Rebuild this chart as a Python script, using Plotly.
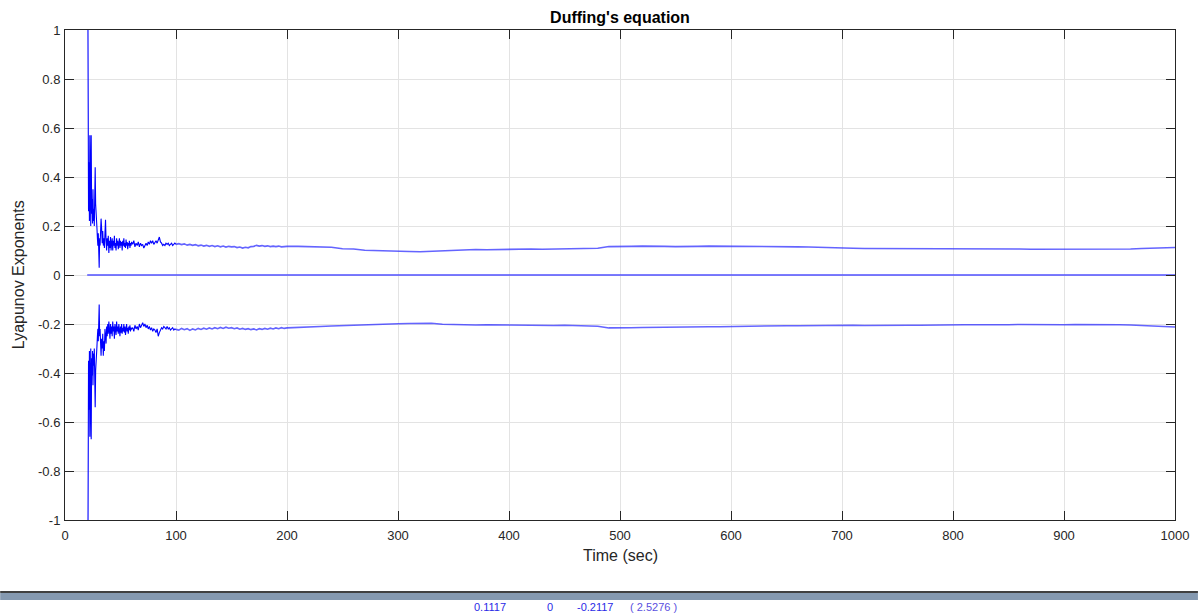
import numpy as np
import plotly.graph_objects as go

# ---- data ----
# time grid segments (sec)
t_a = np.round(np.arange(20.0, 32.001, 0.4), 2)      # 31 pts
t_b = np.round(np.arange(32.5, 60.001, 0.5), 2)      # 56 pts
t_c = np.arange(61, 101, 1.0)                        # 40 pts
t_d = np.round(np.arange(102.5, 200.001, 2.5), 2)    # 40 pts
t_e = np.arange(210, 1001, 10.0)                     # 80 pts

lyap1_a = [2.00, 1.05, 0.38, 0.26, 0.46, 0.22, 0.57, 0.31, 0.20, 0.57,
           0.25, 0.31, 0.21, 0.35, 0.22, 0.27, 0.20, 0.28, 0.44, 0.29,
           0.22, 0.25, 0.19, 0.15, 0.12, 0.17, 0.12, 0.03, 0.15, 0.12,
           0.17]
lyap1_b = [0.23, 0.19, 0.13, 0.18, 0.12, 0.15, 0.11, 0.17, 0.225, 0.14,
           0.10, 0.15, 0.12, 0.16, 0.09, 0.14, 0.11, 0.155, 0.10, 0.13,
           0.15, 0.10, 0.14, 0.12, 0.16, 0.11, 0.13, 0.10, 0.15, 0.12,
           0.14, 0.105, 0.13, 0.15, 0.11, 0.14, 0.12, 0.135, 0.10, 0.14,
           0.12, 0.15, 0.115, 0.13, 0.11, 0.145, 0.12, 0.135, 0.105, 0.13,
           0.12, 0.14, 0.11, 0.13, 0.12, 0.135]
lyap1_c = [0.125, 0.14, 0.115, 0.13, 0.12, 0.135, 0.115, 0.13, 0.12, 0.125,
           0.11, 0.125, 0.13, 0.12, 0.135, 0.125, 0.14, 0.13, 0.14, 0.125,
           0.135, 0.14, 0.13, 0.145, 0.155, 0.135, 0.13, 0.12, 0.125, 0.12,
           0.13, 0.125, 0.13, 0.12, 0.125, 0.13, 0.12, 0.125, 0.13, 0.125]
lyap1_d = [0.128, 0.124, 0.127, 0.122, 0.125, 0.121, 0.124, 0.119, 0.122, 0.118,
           0.121, 0.117, 0.12, 0.116, 0.119, 0.115, 0.118, 0.114, 0.117, 0.115,
           0.116, 0.112, 0.114, 0.110, 0.113, 0.111, 0.116, 0.117, 0.121, 0.118,
           0.12, 0.117, 0.119, 0.116, 0.118, 0.116, 0.118, 0.115, 0.117, 0.117]
lyap1_e = [0.117, 0.115, 0.116, 0.113, 0.107, 0.106, 0.101, 0.099, 0.097, 0.098,
           0.096, 0.095, 0.097, 0.101, 0.103, 0.102, 0.104, 0.103, 0.104, 0.105,
           0.104, 0.106, 0.105, 0.106, 0.107, 0.106, 0.108, 0.109, 0.116, 0.118,
           0.117, 0.118, 0.116, 0.117, 0.116, 0.118, 0.117, 0.118, 0.118, 0.117,
           0.117, 0.116, 0.117, 0.116, 0.115, 0.115, 0.114, 0.112, 0.110, 0.109,
           0.109, 0.108, 0.108, 0.109, 0.108, 0.108, 0.109, 0.108, 0.109, 0.108,
           0.109, 0.108, 0.107, 0.108, 0.107, 0.106, 0.105, 0.105, 0.106, 0.105,
           0.105, 0.104, 0.105, 0.105, 0.106, 0.106, 0.108, 0.109, 0.111, 0.112]

lyap3_a = [-2.10, -1.15, -0.48, -0.35, -0.55, -0.31, -0.66, -0.40, -0.30, -0.67,
           -0.34, -0.41, -0.31, -0.45, -0.32, -0.37, -0.30, -0.38, -0.54, -0.39,
           -0.32, -0.35, -0.29, -0.25, -0.22, -0.27, -0.22, -0.12, -0.25, -0.22,
           -0.27]
lyap3_b = [-0.33, -0.26, -0.30, -0.24, -0.33, -0.27, -0.31, -0.22, -0.25, -0.28,
           -0.21, -0.25, -0.20, -0.24, -0.19, -0.23, -0.26, -0.20, -0.24, -0.21,
           -0.25, -0.19, -0.23, -0.21, -0.26, -0.20, -0.22, -0.245, -0.19, -0.23,
           -0.21, -0.24, -0.20, -0.225, -0.25, -0.21, -0.235, -0.20, -0.24, -0.215,
           -0.23, -0.20, -0.235, -0.21, -0.245, -0.22, -0.20, -0.23, -0.215, -0.24,
           -0.21, -0.225, -0.205, -0.23, -0.215, -0.22]
lyap3_c = [-0.215, -0.23, -0.205, -0.22, -0.21, -0.225, -0.20, -0.215, -0.205, -0.195,
           -0.21, -0.20, -0.215, -0.205, -0.22, -0.21, -0.225, -0.215, -0.23, -0.22,
           -0.225, -0.235, -0.22, -0.25, -0.235, -0.225, -0.215, -0.22, -0.21, -0.215,
           -0.22, -0.21, -0.22, -0.215, -0.225, -0.22, -0.215, -0.225, -0.22, -0.222]
lyap3_d = [-0.225, -0.218, -0.223, -0.219, -0.226, -0.22, -0.224, -0.218, -0.222, -0.217,
           -0.221, -0.216, -0.22, -0.215, -0.219, -0.214, -0.218, -0.213, -0.217, -0.215,
           -0.219, -0.216, -0.221, -0.218, -0.222, -0.219, -0.223, -0.22, -0.224, -0.219,
           -0.222, -0.218, -0.221, -0.217, -0.22, -0.216, -0.219, -0.215, -0.218, -0.216]
lyap3_e = [-0.213, -0.211, -0.210, -0.208, -0.206, -0.205, -0.204, -0.202, -0.200, -0.199,
           -0.198, -0.196, -0.197, -0.201, -0.203, -0.203, -0.204, -0.203, -0.204, -0.204,
           -0.205, -0.204, -0.205, -0.206, -0.205, -0.206, -0.207, -0.209, -0.216, -0.217,
           -0.215, -0.214, -0.213, -0.213, -0.212, -0.213, -0.212, -0.211, -0.211, -0.210,
           -0.209, -0.209, -0.208, -0.208, -0.207, -0.207, -0.206, -0.206, -0.205, -0.205,
           -0.205, -0.206, -0.205, -0.205, -0.204, -0.205, -0.205, -0.204, -0.204, -0.204,
           -0.203, -0.203, -0.204, -0.203, -0.203, -0.202, -0.203, -0.202, -0.202, -0.203,
           -0.202, -0.203, -0.202, -0.202, -0.203, -0.204, -0.206, -0.208, -0.210, -0.212]

zero_t = [20, 1000]
zero_vals = [0, 0]

x_ticks = [0, 100, 200, 300, 400, 500, 600, 700, 800, 900, 1000]
y_ticks = [-1, -0.8, -0.6, -0.4, -0.2, 0, 0.2, 0.4, 0.6, 0.8, 1]
y_ticktext = ["-1", "-0.8", "-0.6", "-0.4", "-0.2", "0", "0.2", "0.4", "0.6", "0.8", "1"]

final_values = ["0.1117", "0", "-0.2117", "( 2.5276 )"]

# ---- assemble ----
t_early = np.concatenate([t_a, t_b, t_c])
t_late = np.concatenate([[100.0], t_d, t_e])
l1_early = lyap1_a + lyap1_b + lyap1_c
l3_early = lyap3_a + lyap3_b + lyap3_c
l1_late = [lyap1_c[-1]] + lyap1_d + lyap1_e
l3_late = [lyap3_c[-1]] + lyap3_d + lyap3_e

fig = go.Figure()
strong = dict(color="rgb(0,0,255)", width=1.1)
soft = dict(color="rgba(40,40,255,0.72)", width=1.6)

fig.add_trace(go.Scatter(x=t_early, y=l1_early, mode="lines", line=strong, hoverinfo="skip"))
fig.add_trace(go.Scatter(x=t_late, y=l1_late, mode="lines", line=soft, hoverinfo="skip"))
fig.add_trace(go.Scatter(x=zero_t, y=zero_vals, mode="lines",
                         line=dict(color="rgb(80,80,255)", width=1.5), hoverinfo="skip"))
fig.add_trace(go.Scatter(x=t_early, y=l3_early, mode="lines", line=strong, hoverinfo="skip"))
fig.add_trace(go.Scatter(x=t_late, y=l3_late, mode="lines", line=soft, hoverinfo="skip"))

FONT = "Liberation Sans, Arial, sans-serif"
axis_common = dict(
    showline=True, linecolor="#262626", linewidth=1, mirror="ticks",
    ticks="inside", ticklen=9, tickcolor="#262626", tickwidth=1,
    showgrid=True, gridcolor="#e3e3e3", gridwidth=1, zeroline=False,
    tickfont=dict(family=FONT, size=13, color="#262626"),
)

fig.update_layout(
    width=1201, height=615,
    margin=dict(l=65, r=23, t=30, b=95),
    paper_bgcolor="white", plot_bgcolor="white",
    showlegend=False,
    title=dict(text="<b>Duffing's equation</b>", x=0.5, xref="paper", xanchor="center",
               y=1 - 17 / 615, yref="container", yanchor="middle",
               font=dict(family=FONT, size=16, color="black")),
    xaxis=dict(range=[0, 1000], tickvals=x_ticks, ticktext=[str(v) for v in x_ticks],
               ticklabelstandoff=3, **axis_common),
    yaxis=dict(range=[-1, 1], tickvals=y_ticks, ticktext=y_ticktext,
               ticklabelstandoff=1, **axis_common),
)

lab_font = dict(family=FONT, size=16, color="#262626")
fig.add_annotation(text="Time (sec)", xref="paper", yref="paper", x=0.5, y=(520 - 555) / 490,
                   xanchor="center", yanchor="middle", showarrow=False, font=lab_font)
fig.add_annotation(text="Lyapunov Exponents", xref="paper", yref="paper", x=(18 - 65) / 1113,
                   y=0.5, xanchor="center", yanchor="middle", textangle=-90,
                   showarrow=False, font=lab_font)

# bottom status bar
px = lambda p: (p - 65) / 1113
py = lambda p: (520 - p) / 490
fig.add_shape(type="rect", xref="paper", yref="paper", x0=px(0), x1=px(1201),
              y0=py(600), y1=py(593), fillcolor="#8599b0", line=dict(width=0), layer="above")
fig.add_shape(type="line", xref="paper", yref="paper", x0=px(0), x1=px(1201),
              y0=py(592), y1=py(592), line=dict(color="black", width=1.5), layer="above")

val_x = [491, 551, 597, 655]
val_col = ["#2a2ae6", "#2a2ae6", "#2a2ae6", "#5a4fe0"]
for txt, xp, col in zip(final_values, val_x, val_col):
    fig.add_annotation(text=txt, xref="paper", yref="paper", x=px(xp), y=py(607),
                       xanchor="center", yanchor="middle", showarrow=False,
                       font=dict(family=FONT, size=11, color=col))

fig.write_html("out.html", config={"displayModeBar": False},
               post_script="document.body.style.margin='0px';document.body.style.overflow='hidden';")
